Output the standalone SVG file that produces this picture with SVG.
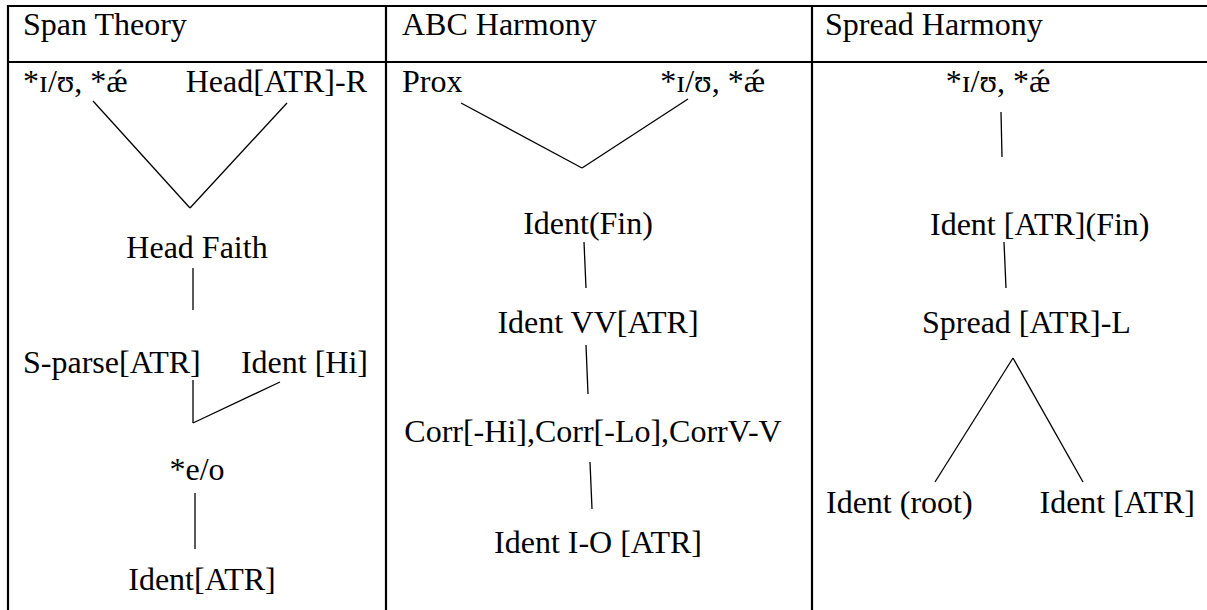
<svg xmlns="http://www.w3.org/2000/svg" width="1207" height="610" viewBox="0 0 1207 610">
  <style>
    text { font-family: "Liberation Serif", "DejaVu Serif", serif; font-size: 32px; fill: #000; }
    .mid { text-anchor: middle; }
    .end { text-anchor: end; }
    .grid { stroke: #000; stroke-width: 2.2; fill: none; }
    .edge { stroke: #000; stroke-width: 1.3; fill: none; }
  </style>

  <rect width="1207" height="610" fill="#fff"/>

  <!-- table rules -->
  <g id="table">
    <line class="grid" x1="7" y1="6" x2="1207" y2="6"/>
    <line class="grid" x1="7" y1="62" x2="1207" y2="62"/>
    <line class="grid" x1="8" y1="5" x2="8" y2="610"/>
    <line class="grid" x1="386" y1="5" x2="386" y2="610"/>
    <line class="grid" x1="812" y1="5" x2="812" y2="610"/>
  </g>

  <!-- column headings -->
  <g id="headings">
    <text x="23" y="35">Span Theory</text>
    <text x="402" y="35">ABC Harmony</text>
    <text x="825" y="35">Spread Harmony</text>
  </g>

  <!-- connectors -->
  <g id="connectors">
    <!-- Span Theory -->
    <line class="edge" x1="93" y1="101" x2="190" y2="208"/>
    <line class="edge" x1="287" y1="103" x2="190" y2="208"/>
    <line class="edge" x1="193" y1="268" x2="193" y2="310"/>
    <line class="edge" x1="193" y1="380" x2="193" y2="423"/>
    <line class="edge" x1="280" y1="382" x2="193" y2="423"/>
    <line class="edge" x1="195" y1="493" x2="195" y2="549"/>
    <!-- ABC Harmony -->
    <line class="edge" x1="461" y1="103" x2="582" y2="168"/>
    <line class="edge" x1="688" y1="99" x2="582" y2="168"/>
    <line class="edge" x1="584" y1="242" x2="586" y2="288"/>
    <line class="edge" x1="586" y1="345" x2="588" y2="394"/>
    <line class="edge" x1="590" y1="462" x2="592" y2="509"/>
    <!-- Spread Harmony -->
    <line class="edge" x1="1001" y1="112" x2="1002" y2="157"/>
    <line class="edge" x1="1004" y1="242" x2="1006" y2="288"/>
    <line class="edge" x1="1013" y1="358" x2="935" y2="482"/>
    <line class="edge" x1="1013" y1="358" x2="1083" y2="482"/>
  </g>

  <!-- Span Theory nodes -->
  <g id="span-markedness"><text x="23" y="92">*ɪ/ʊ, *ǽ</text></g>
  <g id="span-head-atr"><text class="end" x="367" y="92">Head[ATR]-R</text></g>
  <g id="span-head-faith"><text class="mid" x="197" y="258">Head Faith</text></g>
  <g id="span-sparse"><text x="23" y="373">S-parse[ATR]</text></g>
  <g id="span-ident-hi"><text class="end" x="368" y="373">Ident [Hi]</text></g>
  <g id="span-eo"><text class="mid" x="197" y="480">*e/o</text></g>
  <g id="span-ident-atr"><text class="mid" x="202" y="590">Ident[ATR]</text></g>

  <!-- ABC Harmony nodes -->
  <g id="abc-prox"><text x="402" y="92">Prox</text></g>
  <g id="abc-markedness"><text class="end" x="765" y="92">*ɪ/ʊ, *ǽ</text></g>
  <g id="abc-ident-fin"><text class="mid" x="588" y="234">Ident(Fin)</text></g>
  <g id="abc-ident-vv"><text class="mid" x="598" y="333">Ident VV[ATR]</text></g>
  <g id="abc-corr"><text class="mid" x="593" y="442">Corr[-Hi],Corr[-Lo],CorrV-V</text></g>
  <g id="abc-ident-io"><text class="mid" x="598" y="553">Ident I-O [ATR]</text></g>

  <!-- Spread Harmony nodes -->
  <g id="spread-markedness"><text class="mid" x="998" y="92">*ɪ/ʊ, *ǽ</text></g>
  <g id="spread-ident-fin"><text x="930" y="235">Ident [ATR](Fin)</text></g>
  <g id="spread-spread"><text x="922" y="333">Spread [ATR]-L</text></g>
  <g id="spread-ident-root"><text x="826" y="513">Ident (root)</text></g>
  <g id="spread-ident-atr"><text class="end" x="1195" y="513">Ident [ATR]</text></g>
</svg>
